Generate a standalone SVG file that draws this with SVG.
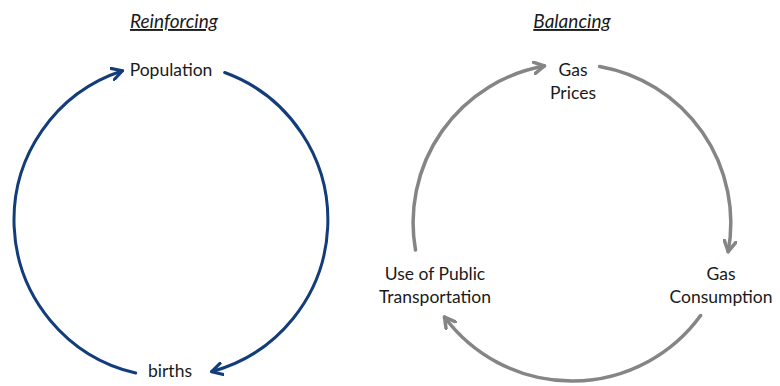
<svg xmlns="http://www.w3.org/2000/svg" width="780" height="386" viewBox="0 0 780 386">
<defs>
<style>
.lbl{font-family:Lato,"Noto Sans","DejaVu Sans",sans-serif;font-size:17.5px;fill:#1a1a1a;text-anchor:middle}
.ttl{font-style:italic;text-decoration:underline;font-size:19px}
.blue{fill:none;stroke:#133d7a;stroke-width:3;stroke-linecap:round}
.gray{fill:none;stroke:#858585;stroke-width:3.5;stroke-linecap:round}
</style>
<marker id="ab" viewBox="0 0 12 12" refX="10" refY="6" markerWidth="14" markerHeight="14" markerUnits="userSpaceOnUse" orient="auto">
<path d="M1,1 L10,6 L1,11" fill="none" stroke="#133d7a" stroke-width="2.7" stroke-linecap="round" stroke-linejoin="round"/>
</marker>
<marker id="ag" viewBox="0 0 12 12" refX="10" refY="6" markerWidth="14" markerHeight="14" markerUnits="userSpaceOnUse" orient="auto">
<path d="M1,1 L10,6 L1,11" fill="none" stroke="#858585" stroke-width="3" stroke-linecap="round" stroke-linejoin="round"/>
</marker>
</defs>
<rect width="780" height="386" fill="#ffffff"/>
<g id="connectors">
<path class="blue" d="M224.7,72.5 A157,157 0 0 1 211.6,371.6" marker-end="url(#ab)"/>
<path class="blue" d="M135.7,373 A157,157 0 0 1 122.5,70.7" marker-end="url(#ab)"/>
<path class="gray" d="M599.6,66.5 A159,159 0 0 1 728.2,251.7" marker-end="url(#ag)"/>
<path class="gray" d="M700.6,315.5 A159,159 0 0 1 444.5,317" marker-end="url(#ag)"/>
<path class="gray" d="M415.5,250.1 A159,159 0 0 1 544.4,66" marker-end="url(#ag)"/>
</g>
<g id="title-reinforcing"><text class="lbl ttl" x="174" y="28">Reinforcing</text></g>
<g id="title-balancing"><text class="lbl ttl" x="572" y="28">Balancing</text></g>
<g id="node-population"><text class="lbl" x="171" y="76">Population</text></g>
<g id="node-births"><text class="lbl" x="170" y="377">births</text></g>
<g id="node-gas-prices"><text class="lbl" x="573" y="76">Gas</text><text class="lbl" x="573" y="99">Prices</text></g>
<g id="node-gas-consumption"><text class="lbl" x="721" y="280">Gas</text><text class="lbl" x="721" y="303">Consumption</text></g>
<g id="node-public-transport"><text class="lbl" x="435" y="280">Use of Public</text><text class="lbl" x="435" y="303">Transportation</text></g>
</svg>
